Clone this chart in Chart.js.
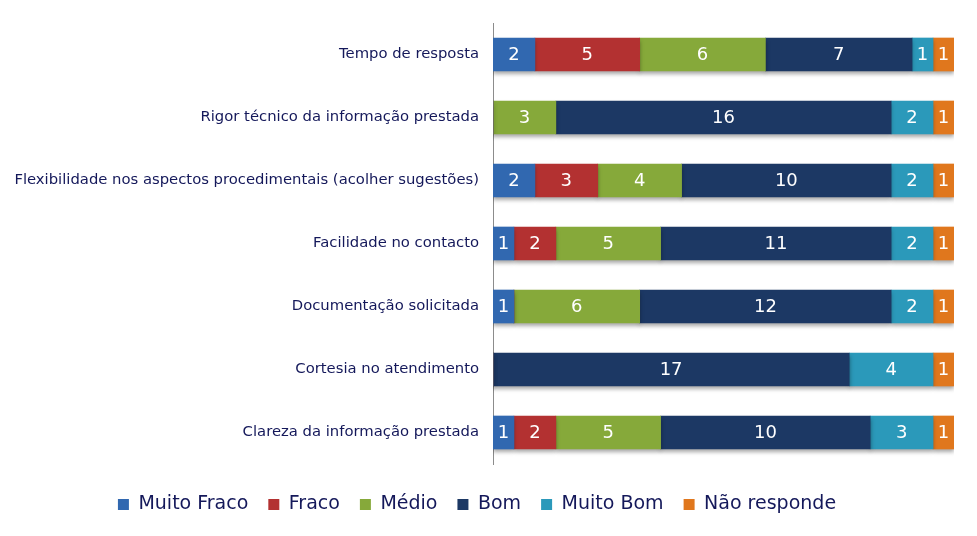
<!DOCTYPE html>
<html>
<head>
<meta charset="utf-8">
<script src="https://cdn.jsdelivr.net/npm/chart.js@4/dist/chart.umd.min.js"></script>
<style>
  html, body { margin: 0; padding: 0; background: #fff; }
  #wrap { width: 977px; height: 536px; }
</style>
</head>
<body>
<div id="wrap"><canvas id="chart"></canvas></div>
<script>
const categories = [
    'Tempo de resposta',
    'Rigor técnico da informação prestada',
    'Flexibilidade nos aspectos procedimentais (acolher sugestões)',
    'Facilidade no contacto',
    'Documentação solicitada',
    'Cortesia no atendimento',
    'Clareza da informação prestada'
];
const muitoFraco  = [2, 0, 2, 1, 1, 0, 1];
const fraco       = [5, 0, 3, 2, 0, 0, 2];
const medio       = [6, 3, 4, 5, 6, 0, 5];
const bom         = [7, 16, 10, 11, 12, 17, 10];
const muitoBom    = [1, 2, 2, 2, 2, 4, 3];
const naoResponde = [1, 1, 1, 1, 1, 1, 1];

const textColor = '#14185a';
const fontFamily = 'Tahoma, "DejaVu Sans", sans-serif';

// white numbers in the middle of each segment
const segmentLabels = {
    id: 'segmentLabels',
    beforeDatasetsDraw(chart) {
        const ctx = chart.ctx;
        ctx.save();
        ctx.shadowColor = 'rgba(0,0,0,0.35)';
        ctx.shadowBlur = 4;
        ctx.shadowOffsetY = 3;
    },
    afterDatasetsDraw(chart) {
        const ctx = chart.ctx;
        ctx.restore();
        ctx.save();
        ctx.fillStyle = '#fff';
        ctx.font = '18px ' + fontFamily;
        ctx.textAlign = 'center';
        ctx.textBaseline = 'middle';
        chart.data.datasets.forEach((ds, i) => {
            chart.getDatasetMeta(i).data.forEach((bar, j) => {
                const v = ds.data[j];
                if (!v) return;
                ctx.fillText(v, (bar.x + bar.base) / 2, bar.y + 1);
            });
        });
        ctx.restore();
    }
};

const ctx = document.getElementById('chart').getContext('2d');
const chart = new Chart(ctx, {
    type: 'bar',
    data: {
        labels: categories,
        datasets: [
            { label: 'Muito Fraco', data: muitoFraco, backgroundColor: '#3168b0' },
            { label: 'Fraco', data: fraco, backgroundColor: '#b33131' },
            { label: 'Médio', data: medio, backgroundColor: '#86a93a' },
            { label: 'Bom', data: bom, backgroundColor: '#1c3864' },
            { label: 'Muito Bom', data: muitoBom, backgroundColor: '#2b99ba' },
            { label: 'Não responde', data: naoResponde, backgroundColor: '#e0771d' }
        ]
    },
    options: {
        indexAxis: 'y',
        responsive: true,
        maintainAspectRatio: false,
        animation: false,
        layout: {
            padding: { left: 0, right: 23, top: 23, bottom: 12 }
        },
        datasets: {
            bar: {
                barThickness: 33,
                borderWidth: 0
            }
        },
        plugins: {
            legend: {
                position: 'bottom',
                labels: {
                    color: textColor,
                    font: { family: fontFamily, size: 19 },
                    boxWidth: 11,
                    boxHeight: 11,
                    padding: 20
                }
            },
            tooltip: { enabled: false }
        },
        scales: {
            x: {
                stacked: true,
                min: 0,
                max: 22,
                afterFit: (scale) => { scale.height = 11; },
                grid: { display: false },
                border: { display: false },
                ticks: { display: false }
            },
            y: {
                stacked: true,
                afterFit: (scale) => { scale.width = 493; },
                grid: { display: true, drawOnChartArea: false, drawTicks: false },
                border: { display: true, color: '#8c8c8c', width: 1 },
                ticks: {
                    color: textColor,
                    padding: 14,
                    font: { family: fontFamily, size: 14.8 }
                }
            }
        }
    },
    plugins: [segmentLabels]
});
</script>
</body>
</html>
